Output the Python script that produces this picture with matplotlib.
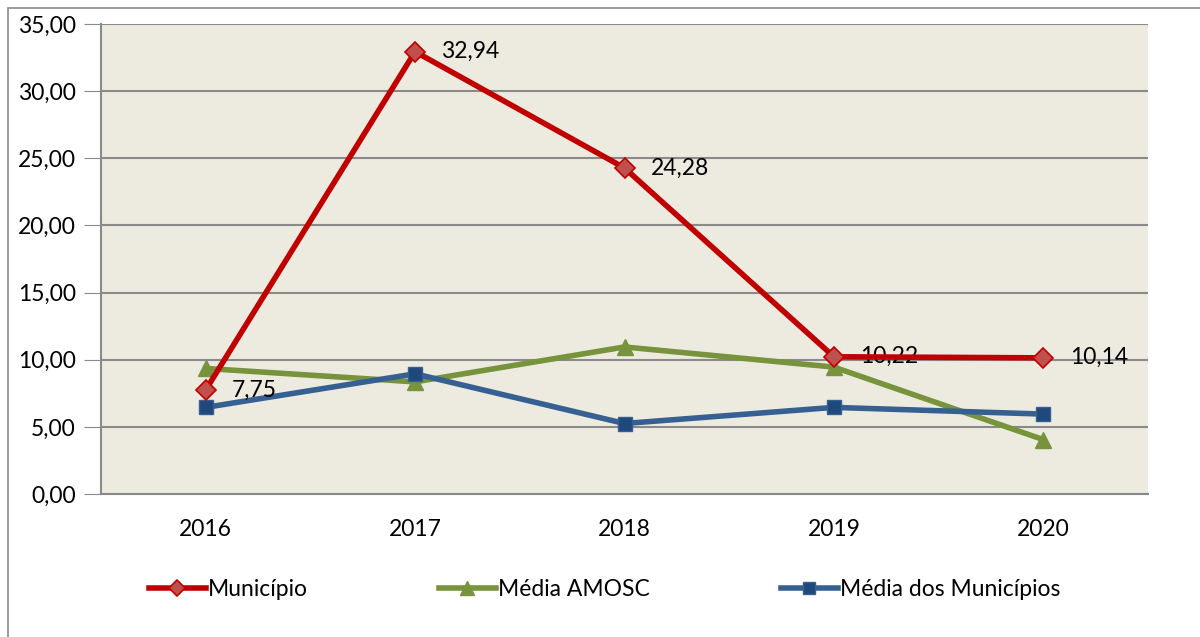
import matplotlib.pyplot as plt
from matplotlib.patches import Rectangle

years = ["2016", "2017", "2018", "2019", "2020"]
municipio = [7.75, 32.94, 24.28, 10.22, 10.14]
media_amosc = [9.35, 8.35, 10.95, 9.45, 4.05]
media_municipios = [6.45, 8.95, 5.25, 6.45, 5.95]

plt.rcParams["font.family"] = ["Lato", "DejaVu Sans"]
FS = 16.5

fig = plt.figure(figsize=(12, 6.37), dpi=100)
fig.patches.append(Rectangle((8 / 1200, -0.01), 1.0, 1 - 8 / 637 + 0.01,
                             transform=fig.transFigure, fill=False,
                             edgecolor="#8a8a8a", linewidth=1.2))

ax = fig.add_axes([101 / 1200, 1 - 494 / 637, 1047 / 1200, 470 / 637])
ax.set_facecolor("#EDEBE0")
x = range(len(years))

ax.plot(x, municipio, color="#C00000", linewidth=4, marker="D", markersize=10,
        markerfacecolor="#C0504D", markeredgecolor="#C00000", markeredgewidth=1.2,
        label="Município", zorder=4)
ax.plot(x, media_amosc, color="#77933C", linewidth=4, marker="^", markersize=12,
        markerfacecolor="#77933C", markeredgecolor="#77933C",
        label="Média AMOSC", zorder=3)
ax.plot(x, media_municipios, color="#366092", linewidth=4, marker="s", markersize=10,
        markerfacecolor="#1F497D", markeredgecolor="#366092",
        label="Média dos Municípios", zorder=3)

for xi, v in zip(x, municipio):
    ax.annotate(f"{v:.2f}".replace(".", ","), (xi, v), xytext=(19, 0),
                textcoords="offset points", va="center", ha="left", fontsize=FS)

ax.set_xlim(-0.5, len(years) - 0.5)
ax.set_ylim(0, 35)
ax.set_yticks(range(0, 36, 5))
ax.set_yticklabels([f"{t:.2f}".replace(".", ",") for t in range(0, 36, 5)], fontsize=FS)
ax.set_xticks(list(x))
ax.set_xticklabels(years, fontsize=FS)
ax.tick_params(axis="x", length=0, pad=18)
ax.tick_params(axis="y", length=12, color="#8a8a8a", pad=6)
ax.grid(axis="y", color="#8a8a8a", linewidth=1.5)
ax.set_axisbelow(True)
for side in ["top", "right"]:
    ax.spines[side].set_visible(False)
for side in ["left", "bottom"]:
    ax.spines[side].set_color("#8a8a8a")
    ax.spines[side].set_linewidth(1.5)

fig.legend(loc="center left", bbox_to_anchor=(128 / 1200, 1 - 590 / 637), ncol=3,
           frameon=False, fontsize=FS, handlelength=2.5, handletextpad=0.1,
           columnspacing=5.7, markerscale=0.85)

fig.savefig("out.png", dpi=100)
